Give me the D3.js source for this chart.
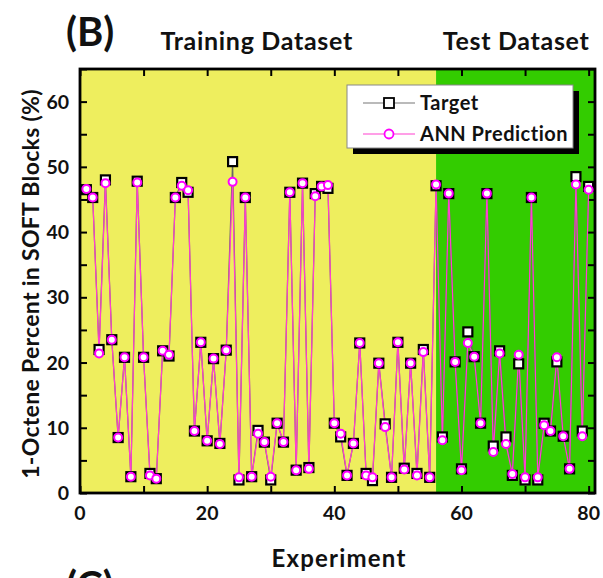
<!DOCTYPE html>
<html>
<head>
<meta charset="utf-8">
<script src="https://cdn.jsdelivr.net/npm/d3@7"></script>
<style>
  body { margin: 0; background: #fff; }
  text { font-family: Lato, "Open Sans", sans-serif; font-weight: bold; fill: #111; }
</style>
</head>
<body>
<div id="chart"></div>
<script>
// ---- data
var experiments = d3.range(1, 81);

var target = [46.5, 45.3, 22.0, 48.0, 23.5, 8.5, 20.8, 2.5, 47.8, 20.8,
              3.0, 2.2, 21.8, 21.0, 45.3, 47.6, 46.1, 9.5, 23.1, 8.0,
              20.6, 7.6, 21.9, 50.8, 2.0, 45.3, 2.5, 9.6, 7.8, 2.0,
              10.7, 7.8, 46.1, 3.5, 47.5, 3.9, 45.9, 47.0, 46.7, 10.7,
              8.6, 2.7, 7.6, 23.0, 3.0, 1.9, 19.9, 10.6, 2.4, 23.1,
              3.8, 19.9, 3.0, 22.0, 2.4, 47.1, 8.6, 45.9, 20.1, 3.7,
              24.7, 20.9, 10.7, 45.9, 7.2, 21.8, 8.6, 2.7, 19.8, 2.0,
              45.3, 2.0, 10.7, 9.5, 20.1, 8.7, 3.7, 48.5, 9.5, 47.0];

var prediction = [46.6, 45.3, 21.4, 47.5, 23.5, 8.5, 20.8, 2.5, 47.6, 20.8,
                  2.7, 2.2, 21.8, 21.2, 45.3, 47.1, 46.4, 9.5, 23.1, 8.0,
                  20.6, 7.5, 21.9, 47.7, 2.4, 45.3, 2.5, 9.1, 7.8, 2.5,
                  10.7, 7.8, 46.1, 3.5, 47.5, 3.7, 45.5, 47.0, 47.2, 10.7,
                  9.1, 2.7, 7.6, 23.0, 2.7, 2.4, 19.9, 10.1, 2.4, 23.1,
                  3.6, 19.9, 2.7, 21.6, 2.4, 47.3, 8.1, 45.9, 20.1, 3.5,
                  23.0, 20.9, 10.7, 45.9, 6.3, 21.4, 7.5, 2.9, 21.2, 2.4,
                  45.3, 2.4, 10.4, 9.5, 20.8, 8.7, 3.7, 47.3, 8.7, 46.5];

var regionNames = ["Training Dataset", "Test Dataset"];
var regionStart = [0, 56];
var regionEnd = [56, 81];
var regionColors = ["#eeee5e", "#33cc00"];

var xTicks = [0, 20, 40, 60, 80];
var yTicks = [0, 10, 20, 30, 40, 50, 60];

// ---- layout
var margin = {top: 69, right: 8, bottom: 85, left: 80},
    width = 603 - margin.left - margin.right,
    height = 578 - margin.top - margin.bottom;

var svg = d3.select("#chart")
  .append("svg")
    .attr("width", 603)
    .attr("height", 578);

var g = svg.append("g")
    .attr("transform", "translate(" + margin.left + "," + margin.top + ")");

var xScale = d3.scaleLinear().domain([0, 81]).range([0, width]);
var yScale = d3.scaleLinear().domain([0, 65]).range([height, 0]);

// background bands
g.selectAll("rect.band")
  .data(regionNames)
  .enter().append("rect")
    .attr("class", "band")
    .attr("x", (d, i) => xScale(regionStart[i]))
    .attr("width", (d, i) => xScale(regionEnd[i]) - xScale(regionStart[i]))
    .attr("y", 0)
    .attr("height", height)
    .attr("fill", (d, i) => regionColors[i]);

// band titles above the plot
svg.selectAll("text.band")
  .data(regionNames)
  .enter().append("text")
    .attr("class", "band")
    .attr("x", (d, i) => margin.left + (i == 0 ? xScale(27.8) : xScale(68.6)))
    .attr("y", 50)
    .attr("text-anchor", "middle")
    .attr("font-size", 25)
    .attr("letter-spacing", 0.7)
    .text(d => d);

// ticks, inward on all four sides
var tickLen = 7;
g.append("g")
    .attr("transform", "translate(0," + height + ")")
    .call(d3.axisBottom(xScale).tickValues(d3.range(0, 81, 10)).tickSizeInner(-tickLen).tickSizeOuter(0).tickFormat(""));
g.append("g")
    .call(d3.axisTop(xScale).tickValues(d3.range(0, 81, 10)).tickSizeInner(-tickLen).tickSizeOuter(0).tickFormat(""));
g.append("g")
    .call(d3.axisLeft(yScale).tickValues(d3.range(0, 66, 5)).tickSizeInner(-tickLen).tickSizeOuter(0).tickFormat(""));
g.append("g")
    .attr("transform", "translate(" + width + ",0)")
    .call(d3.axisRight(yScale).tickValues(d3.range(0, 66, 5)).tickSizeInner(-tickLen).tickSizeOuter(0).tickFormat(""));
g.selectAll(".domain").remove();
g.selectAll(".tick line").attr("stroke", "#000").attr("stroke-width", 2);

// tick labels
g.selectAll("text.xl")
  .data(xTicks)
  .enter().append("text")
    .attr("class", "xl")
    .attr("x", d => xScale(d))
    .attr("y", height + 27)
    .attr("text-anchor", "middle")
    .attr("font-size", 19.5)
    .text(d => d);
g.selectAll("text.yl")
  .data(yTicks)
  .enter().append("text")
    .attr("class", "yl")
    .attr("x", -11)
    .attr("y", d => yScale(d) + 7)
    .attr("text-anchor", "end")
    .attr("font-size", 19.5)
    .text(d => d);

// frame
g.append("rect")
    .attr("width", width)
    .attr("height", height)
    .attr("fill", "none")
    .attr("stroke", "#000")
    .attr("stroke-width", 2.8);

// series
var seriesLine = d3.line().x((d, i) => xScale(experiments[i])).y(d => yScale(d));

g.append("path")
    .datum(target)
    .attr("d", seriesLine)
    .attr("fill", "none")
    .attr("stroke", "#666")
    .attr("stroke-width", 1.2);

g.append("path")
    .datum(prediction)
    .attr("d", seriesLine)
    .attr("fill", "none")
    .attr("stroke", "#ff40d0")
    .attr("stroke-width", 1.2);

var sq = 9;
g.selectAll("rect.target")
  .data(target)
  .enter().append("rect")
    .attr("class", "target")
    .attr("x", (d, i) => xScale(experiments[i]) - sq / 2)
    .attr("y", d => yScale(d) - sq / 2)
    .attr("width", sq)
    .attr("height", sq)
    .attr("fill", "#fff")
    .attr("stroke", "#000")
    .attr("stroke-width", 2.2);

g.selectAll("circle.pred")
  .data(prediction)
  .enter().append("circle")
    .attr("class", "pred")
    .attr("cx", (d, i) => xScale(experiments[i]))
    .attr("cy", d => yScale(d))
    .attr("r", 4)
    .attr("fill", "#fff")
    .attr("stroke", "#ff00ff")
    .attr("stroke-width", 2);

// legend
var lg = svg.append("g").attr("transform", "translate(347,85)");
lg.append("rect").attr("x", 6).attr("y", 6).attr("width", 226).attr("height", 63).attr("fill", "#000");
lg.append("rect").attr("width", 226).attr("height", 63).attr("fill", "#fff").attr("stroke", "#888").attr("stroke-width", 1);

var legendNames = ["Target", "ANN Prediction"];
var legendStroke = ["#777", "#ff40d0"];
legendNames.forEach(function(name, i) {
  var yy = 18 + i * 31;
  lg.append("line").attr("x1", 16).attr("x2", 68).attr("y1", yy).attr("y2", yy)
    .attr("stroke", legendStroke[i]).attr("stroke-width", 1.2);
  if (i == 0) {
    lg.append("rect").attr("x", 37).attr("y", yy - 5).attr("width", 10).attr("height", 10)
      .attr("fill", "#fff").attr("stroke", "#000").attr("stroke-width", 1.8);
  } else {
    lg.append("circle").attr("cx", 42).attr("cy", yy).attr("r", 4.5)
      .attr("fill", "#fff").attr("stroke", "#ff00ff").attr("stroke-width", 1.8);
  }
  lg.append("text").attr("x", 73).attr("y", yy + 7).attr("font-size", 20)
    .attr("letter-spacing", 0.5).text(name);
});

// titles
svg.append("text")
    .attr("x", 66)
    .attr("y", 46)
    .attr("font-size", 40)
    .text("(B)");

svg.append("text")
    .attr("x", 339)
    .attr("y", 567)
    .attr("text-anchor", "middle")
    .attr("font-size", 24)
    .attr("letter-spacing", 1.2)
    .text("Experiment");

svg.append("text")
    .attr("transform", "translate(39," + (margin.top + height / 2 + 3) + ") rotate(-90)")
    .attr("text-anchor", "middle")
    .attr("font-size", 23)
    .attr("letter-spacing", 0.3)
    .text("1-Octene Percent in SOFT Blocks (%)");

// next panel's label, cut off by the picture edge
svg.append("text")
    .attr("x", 66)
    .attr("y", 600)
    .attr("font-size", 40)
    .text("(C)");
</script>
</body>
</html>
